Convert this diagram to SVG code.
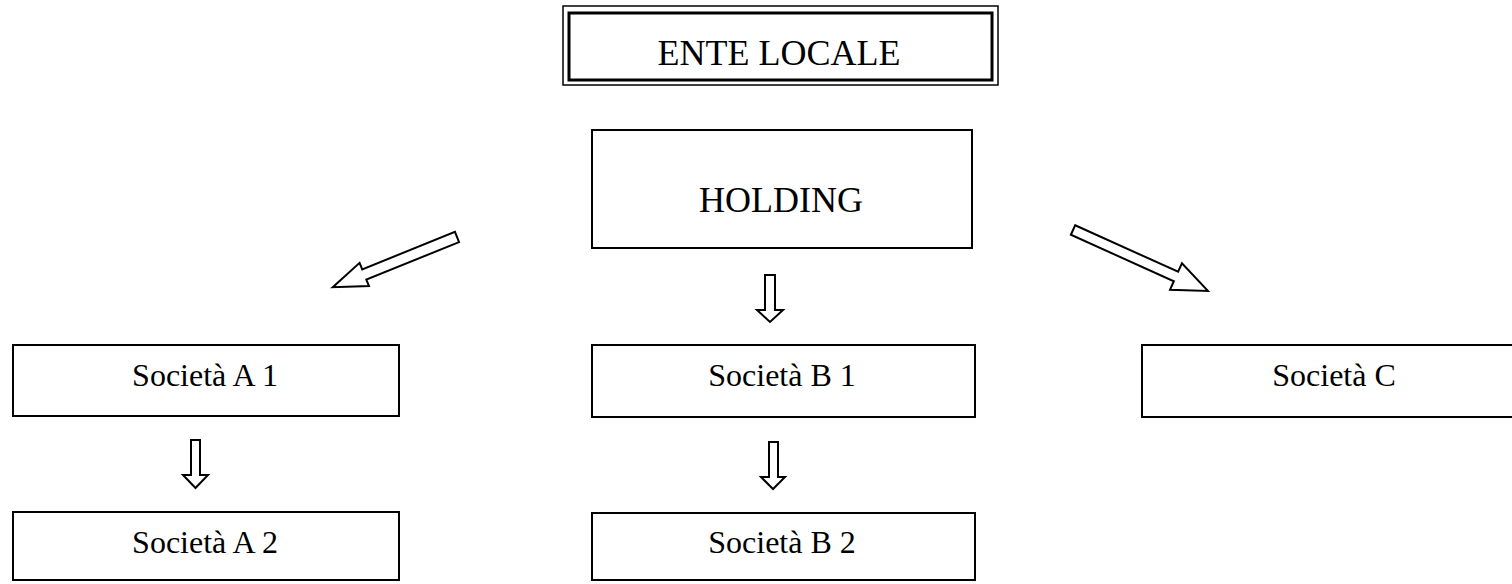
<svg xmlns="http://www.w3.org/2000/svg" width="1512" height="584" viewBox="0 0 1512 584">
<style>
.box{fill:#fff;stroke:#000;stroke-width:2}
.lbl{fill:#000;text-anchor:middle}
.arr{fill:#fff;stroke:#000;stroke-width:2;stroke-linejoin:miter}
</style>
<rect width="1512" height="584" fill="#fff"/>
<g id="ente">
<rect x="563" y="6" width="435" height="79" fill="#fff" stroke="#000" stroke-width="1.5"/>
<rect x="569" y="13" width="423" height="67" fill="none" stroke="#000" stroke-width="3"/>
<text class="lbl" font-family="Liberation Serif, Times New Roman, DejaVu Serif, serif" font-size="36" x="779" y="65">ENTE LOCALE</text>
</g>
<g id="holding">
<rect class="box" x="592" y="130" width="380" height="118"/>
<text class="lbl" font-family="Liberation Serif, Times New Roman, DejaVu Serif, serif" font-size="36" x="781" y="212">HOLDING</text>
</g>
<g id="a1">
<rect class="box" x="13" y="345" width="386" height="71"/>
<text class="lbl" font-family="Liberation Serif, Times New Roman, DejaVu Serif, serif" font-size="32" x="205" y="386">Società A 1</text>
</g>
<g id="a2">
<rect class="box" x="13" y="512" width="386" height="68"/>
<text class="lbl" font-family="Liberation Serif, Times New Roman, DejaVu Serif, serif" font-size="32" x="205" y="553">Società A 2</text>
</g>
<g id="b1">
<rect class="box" x="592" y="345" width="383" height="72"/>
<text class="lbl" font-family="Liberation Serif, Times New Roman, DejaVu Serif, serif" font-size="32" x="782" y="386">Società B 1</text>
</g>
<g id="b2">
<rect class="box" x="592" y="513" width="383" height="67"/>
<text class="lbl" font-family="Liberation Serif, Times New Roman, DejaVu Serif, serif" font-size="32" x="782" y="553">Società B 2</text>
</g>
<g id="c">
<rect class="box" x="1142" y="345" width="384" height="72"/>
<text class="lbl" font-family="Liberation Serif, Times New Roman, DejaVu Serif, serif" font-size="32" x="1334" y="386">Società C</text>
</g>
<g id="connectors">
<path class="arr" transform="translate(457 237) rotate(158)" d="M0,-5.5 L100,-5.5 L100,-12.5 L134,0 L100,12.5 L100,5.5 L0,5.5 Z"/>
<path class="arr" transform="translate(1073 230) rotate(24.3)" d="M0,-5.2 L113,-5.2 L113,-14.5 L148,0 L113,14.5 L113,5.2 L0,5.2 Z"/>
<path class="arr" d="M765,275 L775,275 L775,310 L783,310 L770,322 L757,310 L765,310 Z"/>
<path class="arr" d="M191,440 L200,440 L200,475 L208,475 L195.5,488 L183,475 L191,475 Z"/>
<path class="arr" d="M769,442 L778,442 L778,477 L785,477 L773,489 L761,477 L769,477 Z"/>
</g>
</svg>
